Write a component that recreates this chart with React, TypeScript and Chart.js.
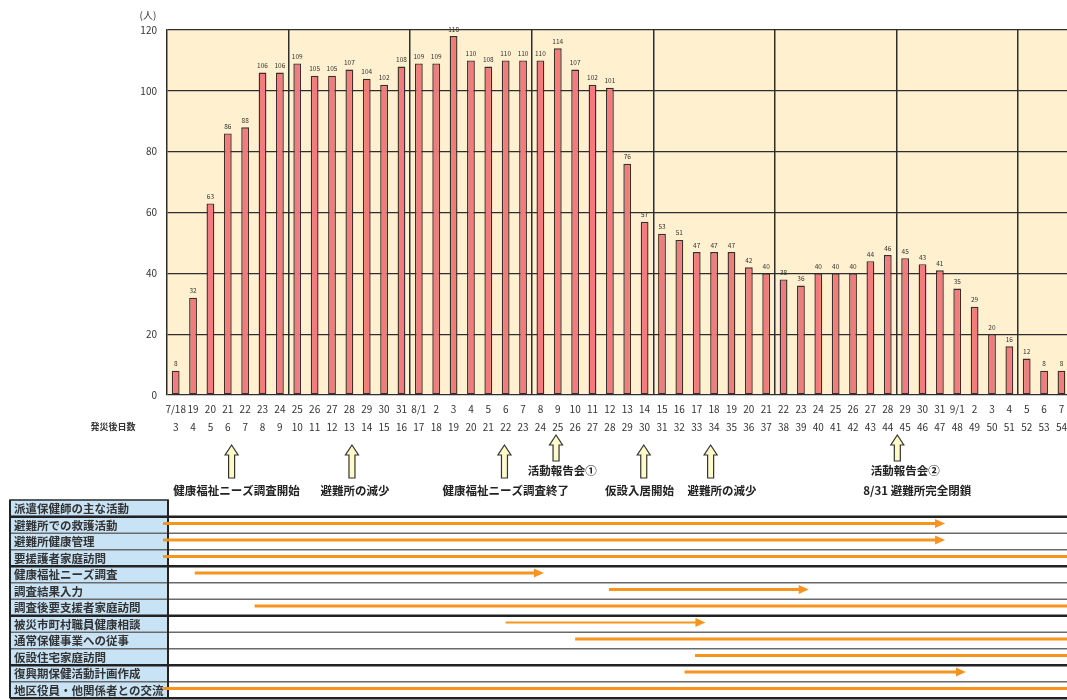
import { useEffect, useRef } from 'react';
import { Chart, registerables } from 'chart.js';

Chart.register(...registerables);

const FONT = "'Noto Sans CJK JP', 'Noto Sans', sans-serif";

const dateLabels = [
  '7/18', '19', '20', '21', '22', '23', '24', '25', '26', '27', '28', '29', '30', '31',
  '8/1', '2', '3', '4', '5', '6', '7', '8', '9', '10', '11', '12', '13', '14', '15', '16',
  '17', '18', '19', '20', '21', '22', '23', '24', '25', '26', '27', '28', '29', '30', '31',
  '9/1', '2', '3', '4', '5', '6', '7',
];

const dayLabels = [
  '3', '4', '5', '6', '7', '8', '9', '10', '11', '12', '13', '14', '15', '16',
  '17', '18', '19', '20', '21', '22', '23', '24', '25', '26', '27', '28', '29', '30', '31', '32',
  '33', '34', '35', '36', '37', '38', '39', '40', '41', '42', '43', '44', '45', '46', '47',
  '48', '49', '50', '51', '52', '53', '54',
];

const counts = [
  8, 32, 63, 86, 88, 106, 106, 109, 105, 105, 107, 104, 102, 108,
  109, 109, 118, 110, 108, 110, 110, 110, 114, 107, 102, 101, 76, 57, 53, 51,
  47, 47, 47, 42, 40, 38, 36, 40, 40, 40, 44, 46, 45, 43, 41,
  35, 29, 20, 16, 12, 8, 8,
];

const yTicks = [0, 20, 40, 60, 80, 100, 120];
const yUnit = '(人)';
const dayRowTitle = '発災後日数';

// event annotations (anchored to category index positions)
const noteArrowAt = [3.22, 10.15, 18.93, 21.9, 26.95, 30.8, 41.55];
const noteTextAt = [3.5, 10.33, 19.0, 22.26, 26.7, 31.45, 42.0];
const noteShort = [false, false, false, true, false, false, true];
const noteTexts = [
  ['健康福祉ニーズ調査開始'],
  ['避難所の減少'],
  ['健康福祉ニーズ調査終了'],
  ['活動報告会①'],
  ['仮設入居開始'],
  ['避難所の減少'],
  ['活動報告会②', '8/31 避難所完全閉鎖'],
];

// activity timeline table
const tableHeader = '派遣保健師の主な活動';
const activityNames = [
  '避難所での救護活動',
  '避難所健康管理',
  '要援護者家庭訪問',
  '健康福祉ニーズ調査',
  '調査結果入力',
  '調査後要支援者家庭訪問',
  '被災市町村職員健康相談',
  '通常保健事業への従事',
  '仮設住宅家庭訪問',
  '復興期保健活動計画作成',
  '地区役員・他関係者との交流',
];
const activityStart = [-0.73, -0.73, -0.73, 1.1, 24.95, 4.55, 19.0, 23.0, 29.9, 29.3, -0.73];
const activityEnd: (number | null)[] = [44.3, 44.3, null, 21.2, 36.45, null, 30.5, null, null, 45.5, null];
const activityGroupEnds = [2, 5, 8, 10];

function upArrow(ctx: CanvasRenderingContext2D, x: number, top: number, bottom: number) {
  const hw = 6.5, sw = 3, hh = 10;
  ctx.beginPath();
  ctx.moveTo(x, top);
  ctx.lineTo(x + hw, top + hh);
  ctx.lineTo(x + sw, top + hh);
  ctx.lineTo(x + sw, bottom);
  ctx.lineTo(x - sw, bottom);
  ctx.lineTo(x - sw, top + hh);
  ctx.lineTo(x - hw, top + hh);
  ctx.closePath();
  ctx.fillStyle = '#FFFBC8';
  ctx.fill();
  ctx.strokeStyle = '#333';
  ctx.lineWidth = 1.2;
  ctx.stroke();
}

const bgPlugin = {
  id: 'bg',
  beforeDraw(chart: any) {
    const { ctx, chartArea } = chart;
    ctx.save();
    ctx.fillStyle = '#fff';
    ctx.fillRect(0, 0, chart.width, chart.height);
    ctx.fillStyle = '#FFF0CF';
    ctx.fillRect(chartArea.left, chartArea.top, chartArea.right - chartArea.left, chartArea.bottom - chartArea.top);
    ctx.restore();
  },
};

const valueLabelPlugin = {
  id: 'valueLabels',
  afterDatasetsDraw(chart: any) {
    const { ctx } = chart;
    const meta = chart.getDatasetMeta(0);
    ctx.save();
    ctx.font = `6.5px ${FONT}`;
    ctx.fillStyle = '#333';
    ctx.textAlign = 'center';
    ctx.textBaseline = 'middle';
    meta.data.forEach((bar: any, i: number) => {
      ctx.fillText(String(counts[i]), bar.x, bar.y - 7);
    });
    ctx.restore();
  },
};

const extrasPlugin = {
  id: 'extras',
  afterDraw(chart: any) {
    const { ctx, chartArea } = chart;
    const xs = chart.scales.x;
    const px = (v: number) => xs.getPixelForValue(v);
    ctx.save();

    // unit label
    ctx.font = `10px ${FONT}`;
    ctx.fillStyle = '#333';
    ctx.textAlign = 'center';
    ctx.textBaseline = 'middle';
    ctx.fillText(yUnit, chartArea.left - 19, 15);

    // day row title
    ctx.font = `bold 9px ${FONT}`;
    ctx.fillStyle = '#333';
    ctx.textAlign = 'center';
    ctx.fillText(dayRowTitle, 113, 427);

    // annotations
    noteTexts.forEach((lines, i) => {
      const ax = px(noteArrowAt[i]);
      if (noteShort[i]) upArrow(ctx, ax, 435, 461);
      else upArrow(ctx, ax, 445, 478);
      ctx.font = `bold 11.5px ${FONT}`;
      ctx.fillStyle = '#222';
      ctx.textAlign = 'center';
      ctx.textBaseline = 'middle';
      const tx = px(noteTextAt[i]);
      if (lines.length === 1 && !noteShort[i]) {
        ctx.fillText(lines[0], tx, 491);
      } else if (lines.length === 1) {
        ctx.fillText(lines[0], tx, 471);
      } else {
        ctx.fillText(lines[0], tx, 471);
        ctx.fillText(lines[1], px(noteTextAt[i] + 0.7), 491);
      }
    });

    // table
    const L = 10, R = 168, W = chart.width;
    const top = 516.7, rh = 16.5;
    const n = activityNames.length;
    // label column background
    ctx.fillStyle = '#C8E3F5';
    ctx.fillRect(L, 500, R - L, top + n * rh - 500);
    // header box
    ctx.strokeStyle = '#333';
    ctx.lineWidth = 1.6;
    ctx.strokeRect(L, 500, R - L, top - 500);
    // row lines
    for (let r = 0; r <= n; r++) {
      const y = top + r * rh;
      const thick = r === 0 || activityGroupEnds.includes(r - 1);
      ctx.beginPath();
      ctx.moveTo(L, y);
      ctx.lineTo(W, y);
      ctx.strokeStyle = thick ? '#222' : '#6a6a6a';
      ctx.lineWidth = thick ? 2.6 : 1.6;
      ctx.stroke();
    }
    // column borders
    ctx.beginPath();
    ctx.moveTo(L, 500);
    ctx.lineTo(L, top + n * rh);
    ctx.moveTo(R, 500);
    ctx.lineTo(R, top + n * rh);
    ctx.strokeStyle = '#222';
    ctx.lineWidth = 2;
    ctx.stroke();
    // texts
    ctx.font = `bold 11.5px ${FONT}`;
    ctx.fillStyle = '#333';
    ctx.textAlign = 'left';
    ctx.textBaseline = 'middle';
    ctx.fillText(tableHeader, L + 4, 508.5);
    activityNames.forEach((name, r) => {
      ctx.fillText(name, L + 4, top + r * rh + rh / 2 + 0.5);
    });
    // orange arrows
    ctx.strokeStyle = '#F7941E';
    ctx.fillStyle = '#F7941E';
    activityNames.forEach((_, r) => {
      const y = top + r * rh + rh / 2 - 1.5;
      const x1 = px(activityStart[r]);
      const end = activityEnd[r];
      const x2 = end === null ? W + 5 : px(end);
      ctx.lineWidth = r === 6 ? 2 : 3;
      ctx.beginPath();
      ctx.moveTo(x1, y);
      ctx.lineTo(end === null ? x2 : x2 - 8, y);
      ctx.stroke();
      if (end !== null) {
        ctx.beginPath();
        ctx.moveTo(x2 - 10, y - 4.5);
        ctx.lineTo(x2, y);
        ctx.lineTo(x2 - 10, y + 4.5);
        ctx.closePath();
        ctx.fill();
      }
    });

    ctx.restore();
  },
};

export default function App() {
  const ref = useRef<HTMLCanvasElement>(null);
  useEffect(() => {
    Chart.defaults.font.family = FONT;
    const chart = new Chart(ref.current as HTMLCanvasElement, {
      type: 'bar',
      data: {
        labels: dateLabels.map((d, i) => [d, dayLabels[i]]),
        datasets: [
          {
            data: counts,
            backgroundColor: '#F27B7B',
            borderColor: '#3a2e2e',
            borderWidth: 1.4,
            borderSkipped: false,
            barPercentage: 0.45,
            categoryPercentage: 1,
          },
        ],
      },
      options: {
        responsive: false,
        animation: false,
        devicePixelRatio: 1,
        layout: { padding: { top: 30, left: 0, right: 0, bottom: 0 } },
        plugins: { legend: { display: false }, tooltip: { enabled: false } },
        scales: {
          x: {
            offset: true,
            grid: {
              offset: true,
              drawTicks: false,
              color: (c: any) => (c.index > 0 && c.index % 7 === 0 ? '#2e2e2e' : 'rgba(0,0,0,0)'),
              lineWidth: 1.5,
            },
            border: { display: false },
            ticks: {
              autoSkip: false,
              maxRotation: 0,
              minRotation: 0,
              padding: 5,
              color: '#333',
              font: { size: 10, family: FONT, lineHeight: 1.8 },
            },
            afterFit: (s: any) => {
              s.height = 305;
            },
          },
          y: {
            min: 0,
            max: 120,
            afterBuildTicks: (s: any) => {
              s.ticks = yTicks.map((v) => ({ value: v }));
            },
            grid: { color: '#2e2e2e', lineWidth: 1.3, drawTicks: false },
            border: { display: true, color: '#2e2e2e', width: 1.5 },
            ticks: { padding: 10, color: '#333', font: { size: 10, family: FONT } },
            afterFit: (s: any) => {
              s.width = 167;
            },
          },
        },
      },
      plugins: [bgPlugin, valueLabelPlugin, extrasPlugin],
    } as any);
    return () => chart.destroy();
  }, []);
  return (
    <div
      style={{
        position: 'fixed',
        left: 0,
        top: 0,
        width: 1067,
        height: 700,
        overflow: 'hidden',
        background: '#fff',
      }}
    >
      <canvas ref={ref} width={1072} height={700} style={{ display: 'block', width: 1072, height: 700 }} />
    </div>
  );
}
